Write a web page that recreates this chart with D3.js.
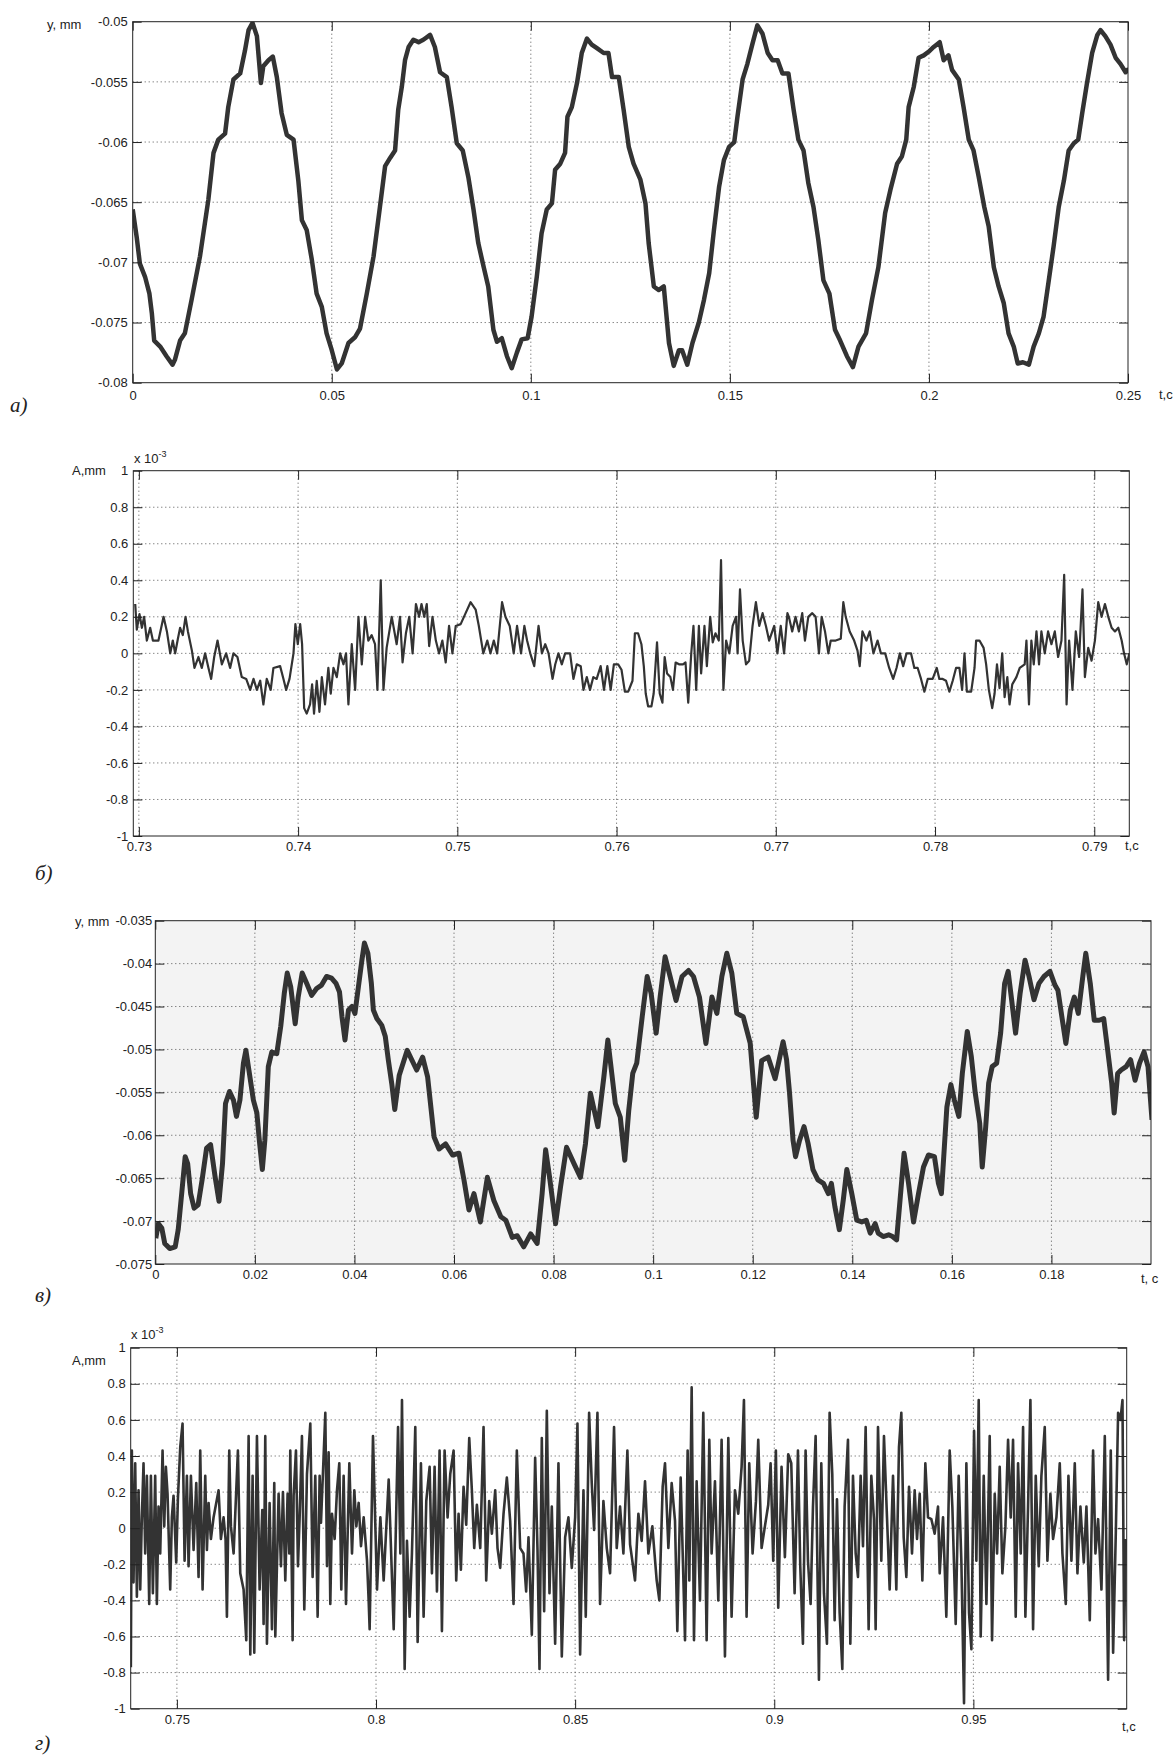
<!DOCTYPE html>
<html>
<head>
<meta charset="utf-8">
<script src="https://cdn.jsdelivr.net/npm/d3@7"></script>
<style>
  body { margin: 0; background: #fff; }
  svg text { font-family: "Liberation Sans", Arial, sans-serif; font-size: 13px; fill: #222; }
  svg text.letter { font-family: "Liberation Serif", "Times New Roman", serif; font-style: italic; font-size: 21px; }
</style>
</head>
<body>
<svg id="fig" width="1176" height="1760"></svg>
<script>
// ---- panel а) : displacement, t in s, y in mm
const aTicksX = [0, 0.05, 0.1, 0.15, 0.2, 0.25];
const aTicksY = [-0.05, -0.055, -0.06, -0.065, -0.07, -0.075, -0.08];
const aSeries = [
  [0, -0.0656], [0.0010, -0.0679], [0.0018, -0.0701], [0.0031, -0.0712], [0.0042, -0.0726],
  [0.0048, -0.0742], [0.0054, -0.0765], [0.0069, -0.0770], [0.0085, -0.0778], [0.0100, -0.0785],
  [0.0106, -0.0781], [0.0119, -0.0765], [0.0131, -0.0759], [0.0148, -0.0731], [0.0169, -0.0695],
  [0.0190, -0.0648], [0.0203, -0.0609], [0.0215, -0.0598], [0.0232, -0.0593], [0.0240, -0.0571],
  [0.0253, -0.0548], [0.0270, -0.0543], [0.0282, -0.0524], [0.0291, -0.0507], [0.0301, -0.0501],
  [0.0312, -0.0512], [0.0322, -0.0551], [0.0328, -0.0537], [0.0341, -0.0532], [0.0352, -0.0529],
  [0.0362, -0.0546], [0.0374, -0.0576], [0.0387, -0.0594], [0.0404, -0.0598], [0.0416, -0.0632],
  [0.0425, -0.0665], [0.0437, -0.0673], [0.0450, -0.0698], [0.0462, -0.0726], [0.0475, -0.0737],
  [0.0487, -0.0759], [0.0500, -0.0773], [0.0513, -0.0789], [0.0525, -0.0784], [0.0542, -0.0767],
  [0.0559, -0.0762], [0.0571, -0.0755], [0.0588, -0.0726], [0.0605, -0.0695], [0.0621, -0.0654],
  [0.0634, -0.0620], [0.0647, -0.0613], [0.0659, -0.0607], [0.0667, -0.0573], [0.0676, -0.0554],
  [0.0684, -0.0532], [0.0693, -0.0521], [0.0705, -0.0515], [0.0718, -0.0517], [0.0730, -0.0515],
  [0.0747, -0.0511], [0.0759, -0.0521], [0.0772, -0.0542], [0.0789, -0.0546], [0.0801, -0.0571],
  [0.0814, -0.0601], [0.0829, -0.0607], [0.0843, -0.0629], [0.0856, -0.0656], [0.0868, -0.0684],
  [0.0881, -0.0703], [0.0893, -0.0720], [0.0906, -0.0756], [0.0915, -0.0766], [0.0927, -0.0763],
  [0.0940, -0.0778], [0.0952, -0.0788], [0.0965, -0.0775], [0.0977, -0.0764], [0.0992, -0.0763],
  [0.1002, -0.0745], [0.1015, -0.0712], [0.1027, -0.0676], [0.1040, -0.0656], [0.1053, -0.0651],
  [0.1061, -0.0623], [0.1074, -0.0618], [0.1086, -0.0609], [0.1092, -0.0579], [0.1103, -0.0571],
  [0.1116, -0.0551], [0.1128, -0.0526], [0.1141, -0.0514], [0.1153, -0.0519], [0.1166, -0.0522],
  [0.1183, -0.0526], [0.1195, -0.0526], [0.1204, -0.0546], [0.1221, -0.0546], [0.1233, -0.0573],
  [0.1246, -0.0604], [0.1258, -0.0618], [0.1275, -0.0631], [0.1288, -0.0651], [0.1296, -0.0684],
  [0.1309, -0.0720], [0.1321, -0.0723], [0.1334, -0.0720], [0.1347, -0.0767], [0.1359, -0.0786],
  [0.1372, -0.0773], [0.1380, -0.0773], [0.1393, -0.0785], [0.1406, -0.0767], [0.1422, -0.0750],
  [0.1435, -0.0731], [0.1448, -0.0709], [0.1460, -0.0673], [0.1473, -0.0637], [0.1485, -0.0615],
  [0.1498, -0.0604], [0.1511, -0.0600], [0.1519, -0.0579], [0.1532, -0.0548], [0.1544, -0.0535],
  [0.1557, -0.0518], [0.1569, -0.0503], [0.1582, -0.0510], [0.1595, -0.0526], [0.1607, -0.0532],
  [0.1620, -0.0532], [0.1632, -0.0543], [0.1647, -0.0543], [0.1660, -0.0573], [0.1672, -0.0598],
  [0.1685, -0.0607], [0.1697, -0.0634], [0.1710, -0.0654], [0.1722, -0.0681], [0.1735, -0.0715],
  [0.1750, -0.0726], [0.1764, -0.0756], [0.1777, -0.0765], [0.1794, -0.0778], [0.1809, -0.0787],
  [0.1823, -0.0770], [0.1842, -0.0759], [0.1857, -0.0731], [0.1873, -0.0704], [0.1890, -0.0659],
  [0.1903, -0.0640], [0.1920, -0.0618], [0.1932, -0.0612], [0.1943, -0.0598], [0.1949, -0.0571],
  [0.1962, -0.0554], [0.1974, -0.0530], [0.1987, -0.0528], [0.1999, -0.0525], [0.2012, -0.0521],
  [0.2027, -0.0517], [0.2037, -0.0532], [0.2049, -0.0528], [0.2058, -0.0540], [0.2075, -0.0548],
  [0.2087, -0.0571], [0.2100, -0.0598], [0.2112, -0.0607], [0.2125, -0.0629], [0.2139, -0.0654],
  [0.2150, -0.0670], [0.2163, -0.0704], [0.2175, -0.0720], [0.2188, -0.0734], [0.2200, -0.0759],
  [0.2213, -0.0770], [0.2223, -0.0784], [0.2236, -0.0783], [0.2251, -0.0785], [0.2263, -0.0770],
  [0.2276, -0.0759], [0.2288, -0.0745], [0.2301, -0.0715], [0.2313, -0.0687], [0.2326, -0.0654],
  [0.2339, -0.0632], [0.2351, -0.0607], [0.2364, -0.0601], [0.2375, -0.0598], [0.2385, -0.0576],
  [0.2397, -0.0551], [0.2410, -0.0526], [0.2423, -0.0511], [0.2431, -0.0507], [0.2443, -0.0512],
  [0.2456, -0.0519], [0.2469, -0.0530], [0.2481, -0.0535], [0.2494, -0.0542], [0.2502, -0.0539]
];

// ---- panel б) : amplitude x 10^-3 mm
const bTicksX = [0.73, 0.74, 0.75, 0.76, 0.77, 0.78, 0.79];
const bTicksY = [1, 0.8, 0.6, 0.4, 0.2, 0, -0.2, -0.4, -0.6, -0.8, -1];
const bSeries = [
  [0.72977, 0.27], [0.72987, 0.13], [0.73004, 0.215], [0.73019, 0.14], [0.73033, 0.20], [0.73050, 0.07],
  [0.73071, 0.14], [0.73088, 0.07], [0.73123, 0.07], [0.73155, 0.20], [0.73176, 0.12], [0.73197, 0.00],
  [0.73213, 0.07], [0.73228, 0.00], [0.73245, 0.08], [0.73259, 0.14], [0.73276, 0.10], [0.73293, 0.20],
  [0.73308, 0.12], [0.73333, 0.015], [0.73349, -0.08], [0.73374, -0.02], [0.73395, -0.08], [0.73416, 0.00],
  [0.73437, -0.08], [0.73454, -0.14], [0.73473, -0.02], [0.73494, 0.07], [0.73521, -0.06], [0.73548, 0.00],
  [0.73573, -0.08], [0.73594, 0.00], [0.73619, -0.02], [0.73646, -0.13], [0.73674, -0.14], [0.73699, -0.20],
  [0.73720, -0.14], [0.73741, -0.20], [0.73762, -0.15], [0.73782, -0.28], [0.73803, -0.14], [0.73828, -0.20],
  [0.73845, -0.08], [0.73887, -0.07], [0.73908, -0.14], [0.73925, -0.20], [0.73946, -0.14], [0.73971, 0.00],
  [0.73983, 0.16], [0.73998, 0.05], [0.74013, 0.16], [0.74025, 0.05], [0.74038, -0.30], [0.74054, -0.33],
  [0.74075, -0.28], [0.74088, -0.17], [0.74100, -0.33], [0.74117, -0.15], [0.74134, -0.32], [0.74149, -0.13],
  [0.74169, -0.28], [0.74190, -0.08], [0.74205, -0.22], [0.74222, -0.08], [0.74243, -0.13], [0.74264, 0.00],
  [0.74285, -0.06], [0.74301, 0.00], [0.74316, -0.28], [0.74337, 0.05], [0.74358, -0.20], [0.74379, 0.20],
  [0.74400, -0.06], [0.74421, 0.20], [0.74441, 0.07], [0.74462, 0.10], [0.74483, 0.05], [0.74498, -0.20],
  [0.74519, 0.40], [0.74536, -0.20], [0.74556, 0.03], [0.74588, 0.20], [0.74619, 0.05], [0.74640, 0.20],
  [0.74656, -0.05], [0.74677, 0.11], [0.74698, 0.20], [0.74719, 0.00], [0.74740, 0.27], [0.74760, 0.20],
  [0.74775, 0.27], [0.74792, 0.20], [0.74808, 0.27], [0.74823, 0.04], [0.74844, 0.20], [0.74865, 0.07],
  [0.74885, 0.00], [0.74906, 0.07], [0.74927, -0.05], [0.74948, 0.15], [0.74969, 0.00], [0.74990, 0.15],
  [0.75021, 0.16], [0.75052, 0.22], [0.75083, 0.28], [0.75115, 0.24], [0.75135, 0.15], [0.75163, 0.00],
  [0.75188, 0.07], [0.75208, 0.00], [0.75229, 0.07], [0.75250, 0.00], [0.75281, 0.28], [0.75302, 0.20],
  [0.75329, 0.15], [0.75354, 0.00], [0.75375, 0.15], [0.75400, 0.00], [0.75421, 0.15], [0.75438, 0.07],
  [0.75458, 0.00], [0.75483, -0.07], [0.75510, 0.15], [0.75531, 0.00], [0.75552, 0.05], [0.75573, 0.00],
  [0.75598, -0.14], [0.75615, -0.06], [0.75635, 0.00], [0.75656, -0.06], [0.75677, 0.00], [0.75708, 0.00],
  [0.75729, -0.14], [0.75750, -0.06], [0.75775, -0.07], [0.75792, -0.20], [0.75813, -0.13], [0.75833, -0.20],
  [0.75854, -0.13], [0.75875, -0.14], [0.75900, -0.07], [0.75921, -0.20], [0.75942, -0.07], [0.75963, -0.20],
  [0.75983, -0.06], [0.76010, -0.06], [0.76031, -0.09], [0.76052, -0.21], [0.76073, -0.21], [0.76100, -0.15],
  [0.76115, 0.11], [0.76135, 0.11], [0.76156, 0.05], [0.76171, -0.07], [0.76183, -0.22], [0.76198, -0.29],
  [0.76219, -0.29], [0.76233, -0.22], [0.76254, 0.06], [0.76271, -0.22], [0.76288, -0.27], [0.76302, -0.02],
  [0.76317, -0.11], [0.76338, -0.13], [0.76354, -0.20], [0.76371, -0.05], [0.76392, -0.06], [0.76417, -0.06],
  [0.76433, -0.05], [0.76450, -0.27], [0.76469, 0.00], [0.76483, 0.15], [0.76500, -0.20], [0.76517, 0.15],
  [0.76531, -0.11], [0.76552, 0.15], [0.76567, -0.07], [0.76588, 0.20], [0.76604, 0.06], [0.76621, 0.11],
  [0.76642, 0.07], [0.76656, 0.51], [0.76671, -0.20], [0.76688, 0.07], [0.76708, 0.00], [0.76729, 0.15],
  [0.76750, 0.20], [0.76760, 0.00], [0.76775, 0.35], [0.76792, 0.07], [0.76813, -0.06], [0.76833, -0.04],
  [0.76854, 0.15], [0.76875, 0.28], [0.76896, 0.15], [0.76917, 0.22], [0.76938, 0.15], [0.76958, 0.07],
  [0.76990, 0.15], [0.77010, 0.00], [0.77031, 0.15], [0.77052, 0.00], [0.77073, 0.22], [0.77082, 0.20],
  [0.77103, 0.12], [0.77124, 0.20], [0.77145, 0.12], [0.77166, 0.22], [0.77183, 0.07], [0.77204, 0.20],
  [0.77229, 0.22], [0.77250, 0.20], [0.77271, 0.00], [0.77288, 0.20], [0.77309, 0.12], [0.77330, 0.00],
  [0.77345, 0.07], [0.77376, 0.07], [0.77408, 0.08], [0.77424, 0.28], [0.77439, 0.20], [0.77464, 0.12],
  [0.77492, 0.07], [0.77513, 0.015], [0.77527, -0.07], [0.77544, 0.12], [0.77569, 0.07], [0.77590, 0.12],
  [0.77613, 0.00], [0.77639, 0.07], [0.77660, 0.00], [0.77687, 0.00], [0.77712, -0.08], [0.77737, -0.14],
  [0.77758, -0.08], [0.77779, 0.00], [0.77800, -0.07], [0.77821, 0.00], [0.77849, 0.00], [0.77870, -0.08],
  [0.77891, -0.08], [0.77912, -0.14], [0.77933, -0.21], [0.77954, -0.14], [0.77985, -0.14], [0.78011, -0.08],
  [0.78027, -0.14], [0.78048, -0.14], [0.78069, -0.15], [0.78090, -0.21], [0.78111, -0.15], [0.78132, -0.08],
  [0.78153, -0.08], [0.78170, -0.20], [0.78185, 0.00], [0.78200, -0.21], [0.78227, -0.21], [0.78248, -0.08],
  [0.78258, 0.07], [0.78279, 0.07], [0.78305, 0.03], [0.78321, -0.06], [0.78338, -0.20], [0.78359, -0.30],
  [0.78374, -0.22], [0.78389, -0.06], [0.78405, -0.19], [0.78422, 0.00], [0.78437, -0.24], [0.78454, -0.13],
  [0.78468, -0.28], [0.78485, -0.17], [0.78511, -0.13], [0.78532, -0.08], [0.78563, -0.06], [0.78574, 0.07],
  [0.78590, -0.28], [0.78605, 0.07], [0.78620, -0.06], [0.78637, 0.12], [0.78653, -0.06], [0.78668, 0.12],
  [0.78689, 0.00], [0.78710, 0.12], [0.78731, 0.05], [0.78752, 0.12], [0.78773, -0.02], [0.78794, 0.07],
  [0.78811, 0.43], [0.78826, -0.28], [0.78842, 0.07], [0.78863, -0.20], [0.78884, 0.12], [0.78905, -0.02],
  [0.78926, 0.35], [0.78941, -0.13], [0.78962, 0.03], [0.78983, -0.04], [0.79004, 0.07], [0.79025, 0.28],
  [0.79046, 0.20], [0.79067, 0.27], [0.79088, 0.20], [0.79109, 0.14], [0.79130, 0.12], [0.79151, 0.14],
  [0.79172, 0.07], [0.79187, 0.00], [0.79204, -0.06], [0.79221, 0.00]
];

// ---- panel в) : displacement, t in s, y in mm
const cTicksX = [0, 0.02, 0.04, 0.06, 0.08, 0.1, 0.12, 0.14, 0.16, 0.18];
const cTicksY = [-0.035, -0.04, -0.045, -0.05, -0.055, -0.06, -0.065, -0.07, -0.075];
const cSeries = [
  [0.0001, -0.0720], [0.0006, -0.0703], [0.0013, -0.0708], [0.0019, -0.0726], [0.0029, -0.0732],
  [0.0040, -0.0730], [0.0046, -0.0710], [0.0053, -0.0668], [0.0060, -0.0625], [0.0065, -0.0633],
  [0.0071, -0.0668], [0.0078, -0.0685], [0.0086, -0.0681], [0.0094, -0.0652], [0.0103, -0.0615],
  [0.0111, -0.0611], [0.0120, -0.0648], [0.0128, -0.0677], [0.0135, -0.0633], [0.0141, -0.0563],
  [0.0149, -0.0549], [0.0157, -0.0559], [0.0163, -0.0578], [0.0170, -0.0559], [0.0177, -0.0516],
  [0.0182, -0.0501], [0.0189, -0.0528], [0.0197, -0.0559], [0.0204, -0.0574], [0.0209, -0.0606],
  [0.0215, -0.0640], [0.0220, -0.0606], [0.0227, -0.0520], [0.0234, -0.0503], [0.0244, -0.0505],
  [0.0252, -0.0473], [0.0259, -0.0435], [0.0265, -0.0411], [0.0272, -0.0427], [0.0281, -0.0470],
  [0.0287, -0.0439], [0.0295, -0.0411], [0.0304, -0.0423], [0.0314, -0.0437], [0.0324, -0.0429],
  [0.0334, -0.0425], [0.0344, -0.0415], [0.0354, -0.0417], [0.0363, -0.0423], [0.0370, -0.0433],
  [0.0375, -0.0462], [0.0381, -0.0489], [0.0388, -0.0454], [0.0395, -0.0450], [0.0401, -0.0458],
  [0.0408, -0.0427], [0.0415, -0.0396], [0.0420, -0.0376], [0.0427, -0.0388], [0.0434, -0.0423],
  [0.0438, -0.0454], [0.0445, -0.0464], [0.0455, -0.0472], [0.0462, -0.0485], [0.0468, -0.0512],
  [0.0475, -0.0540], [0.0481, -0.0570], [0.0490, -0.0530], [0.0506, -0.0501], [0.0525, -0.0524],
  [0.0537, -0.0509], [0.0547, -0.0532], [0.0560, -0.0602], [0.0570, -0.0616], [0.0583, -0.0610],
  [0.0597, -0.0623], [0.0610, -0.0621], [0.0620, -0.0652], [0.0630, -0.0687], [0.0640, -0.0668],
  [0.0653, -0.0701], [0.0667, -0.0649], [0.0680, -0.0676], [0.0694, -0.0695], [0.0704, -0.0699],
  [0.0717, -0.0719], [0.0727, -0.0717], [0.0740, -0.0730], [0.0754, -0.0715], [0.0767, -0.0726],
  [0.0777, -0.0668], [0.0784, -0.0617], [0.0792, -0.0649], [0.0804, -0.0703], [0.0814, -0.0660],
  [0.0826, -0.0614], [0.0841, -0.0633], [0.0854, -0.0649], [0.0864, -0.0610], [0.0874, -0.0551],
  [0.0889, -0.0590], [0.0901, -0.0532], [0.0909, -0.0489], [0.0924, -0.0563], [0.0934, -0.0579],
  [0.0943, -0.0629], [0.0951, -0.0571], [0.0959, -0.0528], [0.0967, -0.0516], [0.0978, -0.0462],
  [0.0988, -0.0415], [0.0996, -0.0435], [0.1006, -0.0481], [0.1014, -0.0439], [0.1024, -0.0392],
  [0.1034, -0.0415], [0.1046, -0.0443], [0.1058, -0.0415], [0.1071, -0.0408], [0.1081, -0.0415],
  [0.1093, -0.0439], [0.1106, -0.0493], [0.1118, -0.0439], [0.1128, -0.0458], [0.1138, -0.0415],
  [0.1148, -0.0388], [0.1158, -0.0411], [0.1168, -0.0458], [0.1181, -0.0462], [0.1195, -0.0493],
  [0.1207, -0.0579], [0.1218, -0.0513], [0.1231, -0.0509], [0.1245, -0.0534], [0.1261, -0.0491],
  [0.1268, -0.0512], [0.1274, -0.0551], [0.1281, -0.0606], [0.1286, -0.0625], [0.1294, -0.0606],
  [0.1303, -0.0590], [0.1311, -0.0609], [0.1321, -0.0640], [0.1331, -0.0652], [0.1342, -0.0656],
  [0.1352, -0.0668], [0.1358, -0.0656], [0.1365, -0.0683], [0.1374, -0.0710], [0.1382, -0.0675],
  [0.1389, -0.0640], [0.1399, -0.0668], [0.1409, -0.0699], [0.1419, -0.0701], [0.1428, -0.0699],
  [0.1436, -0.0714], [0.1446, -0.0703], [0.1452, -0.0714], [0.1462, -0.0718], [0.1473, -0.0716],
  [0.1481, -0.0718], [0.1489, -0.0722], [0.1496, -0.0675], [0.1504, -0.0621], [0.1513, -0.0656],
  [0.1523, -0.0701], [0.1533, -0.0668], [0.1543, -0.0637], [0.1553, -0.0623], [0.1565, -0.0625],
  [0.1573, -0.0656], [0.1579, -0.0668], [0.1585, -0.0613], [0.1590, -0.0567], [0.1598, -0.0541],
  [0.1605, -0.0559], [0.1614, -0.0578], [0.1621, -0.0528], [0.1631, -0.0479], [0.1639, -0.0508],
  [0.1647, -0.0551], [0.1656, -0.0586], [0.1661, -0.0637], [0.1668, -0.0590], [0.1674, -0.0539],
  [0.1681, -0.0520], [0.1690, -0.0516], [0.1698, -0.0481], [0.1706, -0.0423], [0.1713, -0.0409],
  [0.1720, -0.0442], [0.1728, -0.0481], [0.1737, -0.0435], [0.1747, -0.0396], [0.1755, -0.0415],
  [0.1765, -0.0442], [0.1775, -0.0423], [0.1785, -0.0415], [0.1797, -0.0409], [0.1807, -0.0425],
  [0.1813, -0.0431], [0.1821, -0.0462], [0.1829, -0.0493], [0.1838, -0.0454], [0.1846, -0.0439],
  [0.1854, -0.0458], [0.1863, -0.0415], [0.1869, -0.0388], [0.1878, -0.0423], [0.1886, -0.0466],
  [0.1896, -0.0466], [0.1905, -0.0464], [0.1913, -0.0501], [0.1921, -0.0539], [0.1926, -0.0574],
  [0.1933, -0.0528], [0.1940, -0.0524], [0.1950, -0.0520], [0.1959, -0.0512], [0.1968, -0.0536],
  [0.1977, -0.0516], [0.1986, -0.0503], [0.1994, -0.0520], [0.2002, -0.0582]
];

// ---- panel г) : amplitude x 10^-3 mm
const dTicksX = [0.75, 0.8, 0.85, 0.9, 0.95];
const dTicksY = [1, 0.8, 0.6, 0.4, 0.2, 0, -0.2, -0.4, -0.6, -0.8, -1];
const dSeries = [
  [0.73844, -0.77], [0.73869, 0.43], [0.73911, -0.30], [0.73953, 0.36], [0.73995, -0.38], [0.74037, 0.21],
  [0.74079, -0.34], [0.74120, 0.06], [0.74162, 0.36], [0.74204, -0.14], [0.74246, 0.29], [0.74305, -0.42],
  [0.74347, 0.29], [0.74397, -0.36], [0.74455, 0.29], [0.74497, -0.42], [0.74539, 0.12], [0.74581, -0.14],
  [0.74640, 0.43], [0.74682, 0.01], [0.74723, 0.34], [0.74765, 0.19], [0.74832, -0.34], [0.74874, 0.06],
  [0.74916, 0.18], [0.74983, -0.19], [0.75025, 0.16], [0.75084, 0.45], [0.75142, 0.58], [0.75193, -0.18],
  [0.75251, 0.29], [0.75293, -0.21], [0.75352, 0.29], [0.75419, -0.12], [0.75486, 0.25], [0.75544, -0.27],
  [0.75586, 0.43], [0.75645, -0.34], [0.75712, 0.29], [0.75754, -0.12], [0.75796, 0.14], [0.75854, -0.06],
  [0.75921, 0.06], [0.76047, 0.21], [0.76105, -0.06], [0.76172, 0.06], [0.76222, -0.06], [0.76256, -0.49],
  [0.76315, 0.43], [0.76357, 0.01], [0.76424, -0.14], [0.76532, 0.43], [0.76591, -0.25], [0.76675, -0.34],
  [0.76742, -0.62], [0.76801, 0.51], [0.76843, -0.70], [0.76901, 0.29], [0.76943, -0.69], [0.77010, 0.51],
  [0.77077, -0.34], [0.77144, 0.10], [0.77177, -0.53], [0.77219, 0.51], [0.77261, -0.64], [0.77328, 0.14],
  [0.77387, -0.56], [0.77445, 0.25], [0.77471, -0.60], [0.77554, 0.19], [0.77613, -0.21], [0.77663, 0.20],
  [0.77722, -0.29], [0.77780, 0.19], [0.77822, -0.14], [0.77847, 0.43], [0.77906, -0.62], [0.77931, 0.18],
  [0.77990, 0.43], [0.78040, -0.21], [0.78082, 0.06], [0.78140, 0.51], [0.78199, -0.45], [0.78266, 0.30],
  [0.78350, 0.58], [0.78408, -0.27], [0.78475, 0.29], [0.78534, -0.49], [0.78584, 0.29], [0.78618, 0.03],
  [0.78727, 0.64], [0.78769, -0.21], [0.78810, 0.42], [0.78852, -0.42], [0.78894, 0.08], [0.78961, -0.06],
  [0.79020, 0.21], [0.79078, 0.36], [0.79128, -0.34], [0.79187, 0.29], [0.79246, -0.42], [0.79330, 0.36],
  [0.79397, -0.14], [0.79455, 0.21], [0.79506, 0.01], [0.79564, 0.14], [0.79623, -0.10], [0.79690, 0.06],
  [0.79774, -0.18], [0.79815, -0.40], [0.79840, -0.56], [0.79924, 0.51], [0.80025, -0.34], [0.80109, 0.06],
  [0.80192, -0.29], [0.80318, 0.27], [0.80444, -0.56], [0.80553, 0.56], [0.80611, -0.14],
  [0.80652, 0.71], [0.80719, -0.78], [0.80777, -0.07], [0.80844, -0.49], [0.80902, -0.14], [0.80986, 0.56],
  [0.81045, -0.63], [0.81128, 0.36], [0.81195, -0.49], [0.81262, 0.15], [0.81346, 0.34], [0.81404, -0.25],
  [0.81471, 0.34], [0.81530, -0.35], [0.81596, 0.43], [0.81655, -0.57], [0.81722, 0.43], [0.81797, 0.06],
  [0.81864, 0.30], [0.81948, 0.43], [0.82014, -0.29], [0.82073, 0.08], [0.82131, -0.23], [0.82198, 0.23],
  [0.82265, 0.02], [0.82341, 0.50], [0.82407, 0.21], [0.82466, -0.11], [0.82533, 0.13], [0.82617, -0.11],
  [0.82700, 0.56], [0.82767, -0.29], [0.82842, 0.15], [0.82909, -0.03], [0.82993, 0.21], [0.83051, -0.11],
  [0.83118, -0.22], [0.83202, 0.08], [0.83285, 0.28], [0.83369, 0.04], [0.83453, -0.42], [0.83536, 0.43],
  [0.83620, -0.11], [0.83703, -0.14], [0.83770, -0.35], [0.83829, -0.05], [0.83912, -0.59], [0.83996, 0.39],
  [0.84055, -0.12], [0.84105, -0.78], [0.84163, 0.50], [0.84222, -0.46], [0.84289, 0.65], [0.84356, -0.36],
  [0.84414, 0.12], [0.84498, -0.64], [0.84581, 0.36], [0.84665, -0.71], [0.84749, -0.05], [0.84832, 0.06],
  [0.84916, -0.22], [0.85000, 0.06], [0.85058, 0.58], [0.85125, -0.70], [0.85209, 0.21], [0.85267, -0.49],
  [0.85351, 0.64], [0.85417, 0.25], [0.85476, -0.01], [0.85560, 0.64], [0.85626, -0.42], [0.85710, 0.15],
  [0.85794, -0.11], [0.85877, -0.25], [0.85977, 0.56], [0.86044, -0.11], [0.86128, 0.12], [0.86212, -0.14],
  [0.86312, 0.43], [0.86379, -0.09], [0.86504, -0.29], [0.86588, 0.08], [0.86671, -0.07], [0.86755, 0.26],
  [0.86839, -0.14], [0.86939, 0.01], [0.87048, -0.29], [0.87115, -0.40], [0.87198, 0.23], [0.87257, 0.36],
  [0.87341, -0.11], [0.87424, 0.25], [0.87508, 0.04], [0.87566, -0.57], [0.87650, 0.28], [0.87759, -0.62],
  [0.87825, 0.43], [0.87867, -0.29], [0.87926, 0.78], [0.87984, -0.62], [0.88051, 0.26], [0.88135, -0.40],
  [0.88218, 0.64], [0.88302, -0.62], [0.88369, 0.49], [0.88427, -0.14], [0.88511, 0.26], [0.88595, -0.40],
  [0.88678, 0.49], [0.88762, -0.71], [0.88846, 0.50], [0.88929, -0.49], [0.89013, 0.21], [0.89096, 0.08],
  [0.89180, 0.34], [0.89239, 0.71], [0.89305, -0.49], [0.89372, 0.36], [0.89456, -0.14], [0.89540, 0.15],
  [0.89598, 0.49], [0.89682, -0.11], [0.89765, 0.01], [0.89849, 0.13], [0.89908, 0.36], [0.89974, -0.18],
  [0.90041, 0.43], [0.90100, -0.44], [0.90183, 0.34], [0.90267, -0.16], [0.90351, 0.41],
  [0.90427, 0.36], [0.90511, -0.36], [0.90595, 0.43], [0.90653, -0.21], [0.90720, -0.64], [0.90787, 0.43],
  [0.90846, -0.18], [0.90913, -0.42], [0.90972, 0.12], [0.91039, 0.51], [0.91122, -0.84], [0.91181, 0.36],
  [0.91248, -0.36], [0.91323, -0.64], [0.91390, 0.64], [0.91457, 0.30], [0.91516, -0.51], [0.91575, 0.16],
  [0.91642, -0.47], [0.91709, -0.78], [0.91767, 0.12], [0.91851, 0.49], [0.91910, -0.64], [0.91977, 0.29],
  [0.92044, -0.14], [0.92102, -0.27], [0.92169, 0.29], [0.92228, -0.10], [0.92295, 0.56], [0.92370, -0.56],
  [0.92437, 0.29], [0.92504, 0.05], [0.92546, -0.56], [0.92605, 0.56], [0.92688, -0.18], [0.92755, 0.51],
  [0.92831, 0.06], [0.92898, -0.34], [0.92982, 0.29], [0.93065, -0.34], [0.93132, 0.45], [0.93191, 0.64],
  [0.93250, -0.05], [0.93317, -0.27], [0.93384, 0.23], [0.93459, -0.14], [0.93526, 0.21], [0.93585, -0.06],
  [0.93652, 0.19], [0.93719, -0.29], [0.93794, 0.36], [0.93861, 0.06], [0.93945, 0.05], [0.94028, -0.03],
  [0.94112, 0.12], [0.94154, -0.25], [0.94238, 0.06], [0.94321, -0.49], [0.94405, 0.43], [0.94472, 0.12],
  [0.94556, -0.53], [0.94631, 0.29], [0.94698, -0.18], [0.94765, -0.97], [0.94824, 0.36], [0.94891, -0.47],
  [0.94950, -0.67], [0.95017, 0.54], [0.95075, -0.18], [0.95134, 0.71], [0.95184, -0.60], [0.95260, 0.29],
  [0.95327, -0.42], [0.95410, 0.51], [0.95469, -0.62], [0.95536, 0.19], [0.95595, -0.14], [0.95661, 0.34],
  [0.95728, -0.25], [0.95804, 0.01], [0.95871, 0.49], [0.95938, 0.06], [0.95996, 0.49], [0.96063, -0.49],
  [0.96122, 0.36], [0.96189, -0.14], [0.96248, 0.56], [0.96306, -0.49], [0.96373, 0.12], [0.96432, 0.71],
  [0.96499, -0.56], [0.96566, 0.29], [0.96641, -0.21], [0.96708, 0.29], [0.96792, 0.56], [0.96859, -0.18],
  [0.96934, 0.19], [0.97001, -0.06], [0.97085, 0.06], [0.97169, 0.36], [0.97236, -0.14], [0.97320, -0.42],
  [0.97387, 0.29], [0.97462, -0.18], [0.97546, 0.36], [0.97613, -0.25], [0.97688, 0.12], [0.97772, -0.19],
  [0.97839, 0.12], [0.97923, -0.51], [0.98006, 0.43], [0.98065, -0.14], [0.98132, 0.05], [0.98216, -0.34],
  [0.98300, 0.51], [0.98383, -0.84], [0.98450, 0.43], [0.98509, -0.69], [0.98576, -0.03], [0.98634, 0.64],
  [0.98693, 0.60], [0.98744, 0.71], [0.98785, -0.62], [0.98827, -0.06]
];

const svg = d3.select("#fig");
const trim = d => String(+d.toFixed(4));

function drawPanel(p) {
  const x = d3.scaleLinear().domain(p.xDomain).range([p.left, p.right]);
  const y = d3.scaleLinear().domain(p.yDomain).range([p.bottom, p.top]);
  const g = svg.append("g");
  const w = p.right - p.left, h = p.bottom - p.top;

  if (p.bg) {
    g.append("rect").attr("x", p.left).attr("y", p.top).attr("width", w).attr("height", h).attr("fill", p.bg);
  }

  // dotted grid
  g.append("g").selectAll("line")
    .data(p.xTicks.filter(t => x(t) > p.left + 1 && x(t) < p.right - 1))
    .join("line")
    .attr("x1", d => x(d)).attr("x2", d => x(d))
    .attr("y1", p.top).attr("y2", p.bottom)
    .attr("stroke", "#555").attr("stroke-width", 1).attr("stroke-dasharray", "1,3");
  g.append("g").selectAll("line")
    .data(p.yTicks.filter(t => y(t) > p.top + 1 && y(t) < p.bottom - 1))
    .join("line")
    .attr("y1", d => y(d)).attr("y2", d => y(d))
    .attr("x1", p.left).attr("x2", p.right)
    .attr("stroke", "#555").attr("stroke-width", 1).attr("stroke-dasharray", "1,3");

  // signal
  const clipId = "clip" + p.id;
  g.append("clipPath").attr("id", clipId).append("rect")
    .attr("x", p.left).attr("y", p.top).attr("width", w).attr("height", h);
  const line = d3.line().x(d => x(d[0])).y(d => y(d[1])).curve(p.curve || d3.curveLinear);
  g.append("path")
    .datum(p.data)
    .attr("clip-path", `url(#${clipId})`)
    .attr("fill", "none")
    .attr("stroke", "#333")
    .attr("stroke-width", p.lw)
    .attr("stroke-linejoin", "round")
    .attr("d", line);

  // axes with inward ticks on all four sides
  const tk = 9;
  g.append("g").attr("transform", `translate(0,${p.bottom})`)
    .call(d3.axisBottom(x).tickValues(p.xTicks).tickSize(-tk).tickPadding(p.xPad).tickFormat(trim));
  g.append("g").attr("transform", `translate(0,${p.top})`)
    .call(d3.axisTop(x).tickValues(p.xTicks).tickSize(-tk).tickFormat(""));
  g.append("g").attr("transform", `translate(${p.left},0)`)
    .call(d3.axisLeft(y).tickValues(p.yTicks).tickSize(-tk).tickPadding(p.yPad).tickFormat(trim));
  g.append("g").attr("transform", `translate(${p.right},0)`)
    .call(d3.axisRight(y).tickValues(p.yTicks).tickSize(-tk).tickFormat(""));
  g.selectAll(".domain").remove();
  g.selectAll(".tick line").attr("stroke", "#222");
  g.selectAll(".tick text").attr("fill", "#222").style("font-size", "13px")
    .style("font-family", '"Liberation Sans", Arial, sans-serif');

  g.append("rect").attr("x", p.left).attr("y", p.top).attr("width", w).attr("height", h)
    .attr("fill", "none").attr("stroke", "#222").attr("stroke-width", 1);

  // axis names
  g.append("text").attr("x", p.yName[0]).attr("y", p.yName[1]).text(p.yName[2]);
  g.append("text").attr("x", p.xName[0]).attr("y", p.xName[1]).text(p.xName[2]);
  if (p.exp) {
    const e = g.append("text").attr("x", p.exp[0]).attr("y", p.exp[1]).text("x 10");
    e.append("tspan").attr("dy", -6).style("font-size", "9px").text("-3");
  }
  g.append("text").attr("class", "letter").attr("x", p.letter[0]).attr("y", p.letter[1]).text(p.letter[2]);
}

drawPanel({
  id: "a", left: 132.7, right: 1128, top: 21.7, bottom: 382.7,
  xDomain: [0, 0.25], yDomain: [-0.08, -0.05], xTicks: aTicksX, yTicks: aTicksY,
  data: aSeries, lw: 4.5, xPad: 8, yPad: 5,
  yName: [47, 29, "y, mm"], xName: [1159, 399, "t,c"], letter: [10, 412, "а)"]
});

drawPanel({
  id: "b", left: 133.3, right: 1129.3, top: 470.7, bottom: 836,
  xDomain: [0.72965, 0.7922], yDomain: [-1, 1], xTicks: bTicksX, yTicks: bTicksY,
  data: bSeries, lw: 2.2, xPad: 6, yPad: 5,
  yName: [72, 475, "A,mm"], xName: [1125, 850, "t,c"], exp: [134, 463], letter: [35, 880, "б)"]
});

drawPanel({
  id: "c", left: 155.3, right: 1151, top: 920.7, bottom: 1264, bg: "#f3f3f3",
  xDomain: [0, 0.2], yDomain: [-0.075, -0.035], xTicks: cTicksX, yTicks: cTicksY,
  data: cSeries, lw: 5, xPad: 6, yPad: 3,
  yName: [75, 926, "y, mm"], xName: [1141, 1283, "t, c"], letter: [35, 1302, "в)"]
});

drawPanel({
  id: "d", left: 130.7, right: 1126.7, top: 1347.7, bottom: 1708.7,
  xDomain: [0.7384, 0.9885], yDomain: [-1, 1], xTicks: dTicksX, yTicks: dTicksY,
  data: dSeries, lw: 2.6, xPad: 6, yPad: 5,
  yName: [72, 1365, "A,mm"], xName: [1122, 1731, "t,c"], exp: [131, 1339], letter: [35, 1750, "г)"]
});
</script>
</body>
</html>
